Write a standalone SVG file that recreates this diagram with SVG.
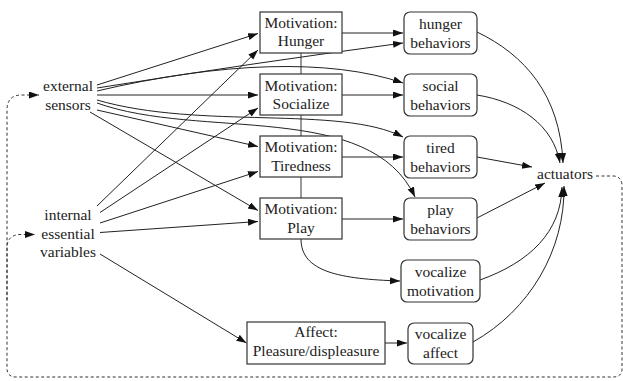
<svg xmlns="http://www.w3.org/2000/svg" width="623" height="381" viewBox="0 0 623 381">
<style>
text{font-family:'Liberation Serif','DejaVu Serif',serif;font-size:15.5px;fill:#222;text-anchor:middle}
.box{fill:#fff;stroke:#333;stroke-width:1.2}
.e{fill:none;stroke:#222;stroke-width:1}
.d{fill:none;stroke:#333;stroke-width:1;stroke-dasharray:3,2.5}
.link{stroke:#555;stroke-width:1.2}
</style>
<defs>
<marker id="ah" markerUnits="userSpaceOnUse" markerWidth="11" markerHeight="8" refX="10" refY="3.5" orient="auto">
<path d="M0,0 L10,3.5 L0,7 z" fill="#111"/>
</marker>
</defs>
<rect width="623" height="381" fill="#fff"/>
<g id="edges">
<line class="link" x1="301" y1="53" x2="301" y2="198"/>
<path class="e" d="M97,85 L258,33.5" marker-end="url(#ah)"/>
<path class="e" d="M97,88 Q260,62 403,43" marker-end="url(#ah)"/>
<path class="e" d="M97,91 C220,62 330,58 403,83" marker-end="url(#ah)"/>
<path class="e" d="M97,95 L258,95" marker-end="url(#ah)"/>
<path class="e" d="M97,100 C200,130 340,105 403,137" marker-end="url(#ah)"/>
<path class="e" d="M97,103 C200,140 370,100 415,197" marker-end="url(#ah)"/>
<path class="e" d="M97,110 L258,146.5" marker-end="url(#ah)"/>
<path class="e" d="M90,112 L258,210.5" marker-end="url(#ah)"/>
<path class="e" d="M97,206 L258,50" marker-end="url(#ah)"/>
<path class="e" d="M100,212.5 L258,108" marker-end="url(#ah)"/>
<path class="e" d="M100,223 L258,171.5" marker-end="url(#ah)"/>
<path class="e" d="M100,232.5 L258,221.5" marker-end="url(#ah)"/>
<path class="e" d="M100,254 L246.5,343" marker-end="url(#ah)"/>
<path class="e" d="M342,33 L403,33" marker-end="url(#ah)"/>
<path class="e" d="M342,95 L403,95" marker-end="url(#ah)"/>
<path class="e" d="M342,157 L403,157" marker-end="url(#ah)"/>
<path class="e" d="M342,219 L403,219" marker-end="url(#ah)"/>
<path class="e" d="M301,239 C301,272 340,279 400,281" marker-end="url(#ah)"/>
<path class="e" d="M385,343 L407,343" marker-end="url(#ah)"/>
<path class="e" d="M477,32 C525,55 560,95 563,163" marker-end="url(#ah)"/>
<path class="e" d="M477,95 C520,102 553,125 560,163" marker-end="url(#ah)"/>
<path class="e" d="M477,157 L532,167" marker-end="url(#ah)"/>
<path class="e" d="M477,218 L545,183" marker-end="url(#ah)"/>
<path class="e" d="M480,280 C530,262 561,232 562,187" marker-end="url(#ah)"/>
<path class="e" d="M473,342 C530,310 565,250 564,186" marker-end="url(#ah)"/>
<path class="d" d="M596,176 L614,176 Q622,177 622,186 L622,369 Q622,377 613,377 L16,377 Q7,377 7,368 L7,110 Q7,96 20,95 L39,95" marker-end="url(#ah)"/>
<path class="d" d="M7,300 L7,248 Q7,235 20,234.5 L35,234.5" marker-end="url(#ah)"/>
</g>
<g font-family="Liberation Serif, DejaVu Serif, serif">
<g id="external_sensors"><text x="68" y="91">external</text><text x="68" y="110">sensors</text></g>
<g id="internal_variables"><text x="68" y="220">internal</text><text x="68" y="239">essential</text><text x="68" y="257">variables</text></g>
<g id="mot_hunger"><rect class="box" x="260" y="12" width="82" height="41"/><text x="301" y="28">Motivation:</text><text x="301" y="46">Hunger</text></g>
<g id="mot_socialize"><rect class="box" x="260" y="74" width="82" height="41"/><text x="301" y="90.5">Motivation:</text><text x="301" y="109">Socialize</text></g>
<g id="mot_tiredness"><rect class="box" x="260" y="136" width="82" height="41"/><text x="301" y="152">Motivation:</text><text x="301" y="170.5">Tiredness</text></g>
<g id="mot_play"><rect class="box" x="260" y="198" width="82" height="41"/><text x="301" y="214">Motivation:</text><text x="301" y="232.5">Play</text></g>
<g id="affect"><rect class="box" x="247" y="322" width="138" height="42"/><text x="316" y="337">Affect:</text><text x="316" y="355.5">Pleasure/displeasure</text></g>
<g id="hunger_behaviors"><rect class="box" x="404" y="12" width="73" height="42" rx="6"/><text x="440.5" y="29">hunger</text><text x="440.5" y="48">behaviors</text></g>
<g id="social_behaviors"><rect class="box" x="404" y="74" width="73" height="42" rx="6"/><text x="440.5" y="91">social</text><text x="440.5" y="110">behaviors</text></g>
<g id="tired_behaviors"><rect class="box" x="404" y="136" width="73" height="42" rx="6"/><text x="440.5" y="153">tired</text><text x="440.5" y="172">behaviors</text></g>
<g id="play_behaviors"><rect class="box" x="404" y="198" width="73" height="42" rx="6"/><text x="440.5" y="215">play</text><text x="440.5" y="234">behaviors</text></g>
<g id="vocalize_motivation"><rect class="box" x="401" y="260" width="79" height="42" rx="6"/><text x="440.5" y="277">vocalize</text><text x="440.5" y="295.5">motivation</text></g>
<g id="vocalize_affect"><rect class="box" x="408" y="323" width="65" height="41" rx="6"/><text x="440.5" y="339">vocalize</text><text x="440.5" y="357.5">affect</text></g>
<g id="actuators"><text x="565" y="179">actuators</text></g>
</g>
</svg>
